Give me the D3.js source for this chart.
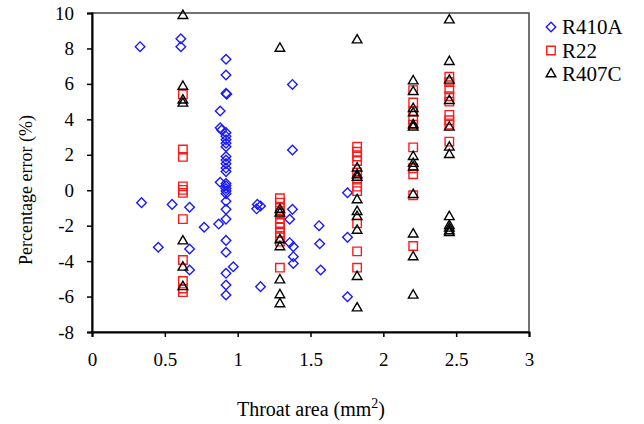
<!DOCTYPE html>
<html>
<head>
<meta charset="utf-8">
<script src="https://cdn.jsdelivr.net/npm/d3@7"></script>
<style>
  body { margin: 0; background: #fff; }
  svg text { font-family: "Liberation Serif", "Times New Roman", serif; }
</style>
</head>
<body>
<svg width="644" height="424"></svg>
<script>
// values: [throat area, percentage error]
const r410a = [
  [0.33, 8.1], [0.34, -0.7], [0.455, -3.22], [0.55, -0.8], [0.61, 8.55], [0.61, 8.1],
  [0.67, -0.96], [0.67, -3.32], [0.67, -4.5], [0.77, -2.09], [0.87, -1.91],
  [0.88, 4.47], [0.88, 3.52], [0.89, 3.4], [0.88, 0.45],
  [0.92, 7.39], [0.92, 6.5], [0.92, 5.47], [0.925, 5.42], [0.92, 3.25], [0.92, 3.05],
  [0.92, 2.85], [0.92, 2.65], [0.92, 2.45], [0.92, 1.9], [0.92, 1.7], [0.92, 1.5],
  [0.92, 1.25], [0.92, 1.05], [0.92, 0.38], [0.92, 0.25], [0.92, 0.1], [0.92, -0.05],
  [0.92, -0.2], [0.92, -0.62], [0.92, -1.08], [0.92, -1.63], [0.92, -2.83],
  [0.92, -3.5], [0.92, -4.69], [0.92, -5.35], [0.92, -5.91], [0.97, -4.32],
  [1.135, -0.8], [1.157, -0.89], [1.13, -1.05], [1.157, -5.44],
  [1.376, 5.97], [1.376, 2.27], [1.376, -1.08], [1.357, -1.64], [1.357, -2.96],
  [1.382, -3.19], [1.382, -3.75], [1.382, -4.13],
  [1.559, -2.0], [1.563, -3.02], [1.57, -4.5],
  [1.754, -0.14], [1.754, -2.66], [1.754, -6.01]
];
const r22 = [
  [0.624, 5.41], [0.624, 2.3], [0.624, 1.88], [0.624, 0.22], [0.624, 0.02], [0.624, -0.15],
  [0.624, -1.63], [0.624, -3.94], [0.624, -5.12], [0.624, -5.55], [0.624, -5.75],
  [1.29, -0.45], [1.29, -0.7], [1.29, -1.0], [1.29, -1.3], [1.29, -1.6], [1.29, -1.85],
  [1.29, -2.1], [1.29, -2.4], [1.29, -2.65], [1.29, -2.9], [1.29, -4.37],
  [1.82, 2.45], [1.82, 2.17], [1.82, 1.9], [1.82, 1.65], [1.82, 1.0], [1.82, 0.6],
  [1.82, 0.2], [1.82, -0.05], [1.82, -1.87], [1.82, -3.45], [1.82, -4.37],
  [2.205, 5.65], [2.205, 4.95], [2.205, 4.45], [2.205, 4.0], [2.205, 3.7], [2.205, 2.42],
  [2.205, 1.24], [2.205, 0.9], [2.205, -0.28], [2.205, -3.15],
  [2.453, 6.4], [2.453, 6.1], [2.453, 5.7], [2.453, 5.3], [2.453, 5.0], [2.453, 4.25],
  [2.453, 3.95], [2.453, 3.7], [2.453, 2.74]
];
const r407c = [
  [0.624, 9.85], [0.624, 5.85], [0.624, 5.08], [0.624, 4.9], [0.624, -2.87],
  [0.624, -4.35], [0.624, -5.45],
  [1.29, 8.0], [1.29, -1.1], [1.29, -1.3], [1.29, -2.81], [1.29, -3.2],
  [1.29, -5.07], [1.29, -5.91], [1.29, -6.42],
  [1.82, 8.47], [1.82, 1.24], [1.82, 0.86], [1.82, 0.72], [1.82, -0.55], [1.82, -1.21],
  [1.82, -1.5], [1.82, -2.27], [1.82, -4.88], [1.82, -6.65],
  [2.205, 6.16], [2.205, 5.55], [2.205, 4.6], [2.205, 4.35], [2.205, 3.68], [2.205, 3.55],
  [2.205, 1.89], [2.205, 1.5], [2.205, 1.3], [2.205, -0.25], [2.205, -2.48],
  [2.205, -3.77], [2.205, -5.93],
  [2.453, 9.6], [2.453, 7.25], [2.453, 6.2], [2.453, 5.05], [2.453, 3.55], [2.453, 2.42],
  [2.453, 2.0], [2.453, -1.5], [2.453, -2.0], [2.453, -2.15], [2.453, -2.3], [2.453, -2.4]
];
const xTicks = [0, 0.5, 1, 1.5, 2, 2.5, 3];
const yTicks = [-8, -6, -4, -2, 0, 2, 4, 6, 8, 10];
const seriesNames = ["R410A", "R22", "R407C"];

const serif = "'Liberation Serif', 'Times New Roman', serif";
const svg = d3.select("svg");
const x = d3.scaleLinear().domain([0, 3]).range([92, 529]);
const y = d3.scaleLinear().domain([-8, 10]).range([332, 13]);

// frame
svg.append("rect")
  .attr("x", 92).attr("y", 13)
  .attr("width", 437).attr("height", 319)
  .attr("fill", "none")
  .attr("stroke", "#444")
  .attr("stroke-width", 1.5);

const xAxis = svg.append("g")
  .attr("transform", "translate(0,332)")
  .call(d3.axisBottom(x).tickValues(xTicks).tickSize(5).tickPadding(16)
    .tickFormat(d3.format("")));
const yAxis = svg.append("g")
  .attr("transform", "translate(92,0)")
  .call(d3.axisLeft(y).tickValues(yTicks).tickSize(5).tickPadding(13));

[xAxis, yAxis].forEach(function(g) {
  g.attr("font-family", null);
  g.select(".domain").attr("stroke", "#000").attr("stroke-width", 2);
  g.selectAll(".tick line").attr("stroke", "#000").attr("stroke-width", 1.5);
  g.selectAll(".tick text")
    .attr("fill", "#000")
    .style("font-family", serif)
    .style("font-size", "19px");
});
yAxis.selectAll(".tick text").text(function(d) { return d; });

const diamond = d3.symbol(d3.symbolSquare, 46)();
const square = d3.symbol(d3.symbolSquare, 72)();
const triangle = d3.symbol(d3.symbolTriangle, 40)();

function drawSeries(data, path, color, rotate) {
  svg.append("g").selectAll("path").data(data).enter()
    .append("path")
    .attr("d", path)
    .attr("transform", function(d) {
      return "translate(" + x(d[0]) + "," + y(d[1]) + ")" + (rotate ? " rotate(45)" : "");
    })
    .attr("fill", "none")
    .attr("stroke", color)
    .attr("stroke-width", 1.4);
}

drawSeries(r410a, diamond, "#1a1aff", true);
drawSeries(r22, square, "#ff1a1a", false);
drawSeries(r407c, triangle, "#000", false);

// legend
const legendMarks = [
  { path: diamond, color: "#1a1aff", rotate: true },
  { path: square, color: "#ff1a1a", rotate: false },
  { path: triangle, color: "#000", rotate: false }
];
seriesNames.forEach(function(name, i) {
  const ly = 27 + i * 23.5;
  svg.append("path")
    .attr("d", legendMarks[i].path)
    .attr("transform", "translate(551," + ly + ")" + (legendMarks[i].rotate ? " rotate(45)" : ""))
    .attr("fill", "none")
    .attr("stroke", legendMarks[i].color)
    .attr("stroke-width", 1.4);
  svg.append("text")
    .attr("x", 562)
    .attr("y", ly + 7)
    .text(name)
    .style("font-family", serif)
    .style("font-size", "21px");
});

// axis titles
svg.append("text")
  .attr("transform", "translate(32,190) rotate(-90)")
  .attr("text-anchor", "middle")
  .style("font-family", serif)
  .style("font-size", "18px")
  .text("Percentage error (%)");

const xt = svg.append("text")
  .attr("x", 311)
  .attr("y", 416)
  .attr("text-anchor", "middle")
  .style("font-family", serif)
  .style("font-size", "20px");
xt.append("tspan").text("Throat area (mm");
xt.append("tspan").attr("dy", -8).style("font-size", "14px").text("2");
xt.append("tspan").attr("dy", 8).text(")");
</script>
</body>
</html>
